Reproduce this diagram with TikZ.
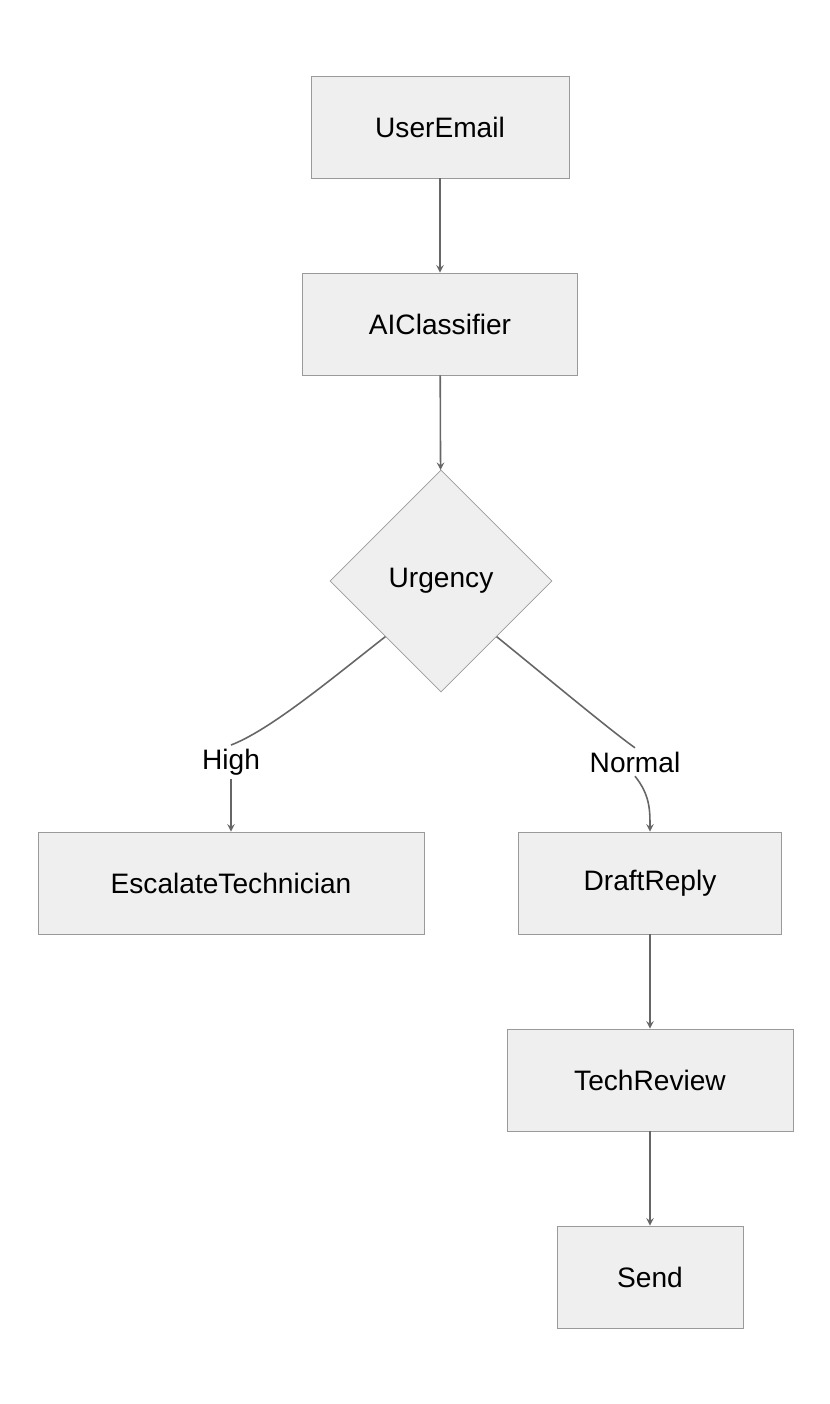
\documentclass[tikz,border=0pt]{standalone}
\usepackage{fontspec}
\setmainfont{Liberation Sans}
\usetikzlibrary{shapes.geometric, arrows, positioning}
\usepackage{xcolor}
\definecolor{boxfill}{HTML}{EFEFEF}
\definecolor{boxline}{HTML}{9A9A9A}
\definecolor{edgecol}{HTML}{666666}

\begin{document}
\begin{tikzpicture}[x=0.02cm, y=-0.02cm,
    box/.style={rectangle, draw=boxline, fill=boxfill, minimum height=2.04cm, font=\fontsize{16}{19}\selectfont},
    edge/.style={draw=edgecol, line width=0.9pt},
    lbl/.style={fill=white, inner sep=2pt, font=\fontsize{16}{19}\selectfont}]
    \useasboundingbox (0,0) rectangle (830,1404);
    % Nodes
    \node (user) [box, minimum width=5.16cm] at (440,127) {UserEmail};
    \node (ai) [box, minimum width=5.5cm] at (440,324) {AIClassifier};
    \node (urg) [diamond, draw=boxline, fill=boxfill, minimum width=4.44cm, minimum height=4.44cm, inner sep=0pt, font=\fontsize{16}{19}\selectfont] at (441,581) {Urgency};
    \node (esc) [box, minimum width=7.72cm] at (231,883) {EscalateTechnician};
    \node (draft) [box, minimum width=5.26cm] at (650,883) {DraftReply};
    \node (review) [box, minimum width=5.72cm] at (650,1080) {TechReview};
    \node (send) [box, minimum width=3.72cm] at (650,1277) {Send};
    \node (high) [lbl] at (231,762) {High};
    \node (normal) [lbl] at (635,762) {Normal};

    % Arrows
    \draw[edge, ->, >=stealth] (user) -- (ai);
    \draw[edge, ->, >=stealth] (ai) -- (urg);
    \draw[edge] (urg.south west) .. controls (330,680) and (270,730) .. (high.north);
    \draw[edge, ->, >=stealth] (high.south) .. controls (231,795) and (231,810) .. (esc.north);
    \draw[edge] (urg.south east) .. controls (550,680) and (610,730) .. (normal.north);
    \draw[edge, ->, >=stealth] (normal.south) .. controls (650,795) and (650,810) .. (draft.north);
    \draw[edge, ->, >=stealth] (draft) -- (review);
    \draw[edge, ->, >=stealth] (review) -- (send);
\end{tikzpicture}
\end{document}
